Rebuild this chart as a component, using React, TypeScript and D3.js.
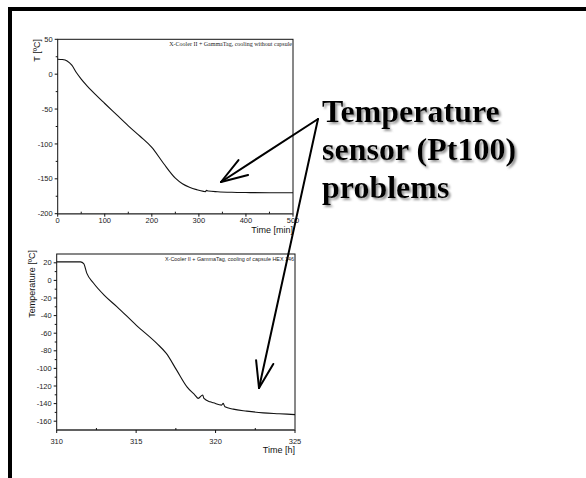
import React from "react";
import * as d3 from "d3";

// top panel: X-Cooler II + GammaTag, cooling without capsule
const topTime = [0, 10, 20, 30, 40, 50, 60, 80, 100, 125, 150, 175, 200, 225, 250, 265, 280, 295, 310, 314, 316, 320, 340, 370, 400, 450, 500];
const topTemp = [21.5, 21, 19, 13, 2, -7, -15, -29, -42, -58, -74, -89, -105, -128, -149, -157, -162, -165.5, -168, -168.3, -166.5, -167.5, -168.5, -169.3, -169.7, -170, -170];
const topXTicks = [0, 100, 200, 300, 400, 500];
const topYTicks = [50, 0, -50, -100, -150, -200];

// bottom panel: cooling of capsule HEX 146
const botTime = [310, 311.0, 311.5, 311.7, 311.9, 312.3, 313.0, 313.8, 315.0, 316.3, 316.9, 317.55, 318.2, 318.7, 318.91, 319.19, 319.27, 319.65, 319.86, 320.38, 320.48, 320.59, 321.11, 321.96, 323.0, 324.0, 325];
const botTemp = [21, 21, 21, 19, 8, -2.7, -17, -30, -50.8, -71.6, -83, -102, -121, -130.3, -134.1, -130.3, -134.1, -138, -139.1, -141.7, -139.8, -143.6, -146.3, -148.5, -150.5, -151.5, -152.5];
const botXTicks = [310, 315, 320, 325];
const botYTicks = [20, 0, -20, -40, -60, -80, -100, -120, -140, -160];

const noteLines = ["Temperature", "sensor (Pt100)", "problems"];

const sans = "Arial, 'Liberation Sans', sans-serif";
const serif = "'Times New Roman', 'Liberation Serif', serif";

type PanelProps = {
  xs: number[];
  ys: number[];
  xDomain: [number, number];
  yDomain: [number, number];
  xRange: [number, number];
  yRange: [number, number];
  xTicks: number[];
  yTicks: number[];
  xMinor: number[];
  yMinor: number[];
  title: string;
  titleFont: string;
  titleSize: number;
  titleY: number;
  xLabel: string;
  yLabel: string;
  yLabelX: number;
  yLabelEnd: number;
  xTickDy: number;
  xLabelY: number;
};

const Panel = (p: PanelProps) => {
  const x = d3.scaleLinear().domain(p.xDomain).range(p.xRange);
  const y = d3.scaleLinear().domain(p.yDomain).range(p.yRange);
  const [x0, x1] = p.xRange;
  const [y0, y1] = p.yRange; // y0 bottom, y1 top
  const pts = p.xs.map((v, i) => [v, p.ys[i]] as [number, number]);
  const path = d3
    .line<[number, number]>()
    .x((d) => x(d[0]))
    .y((d) => y(d[1]))
    .curve(d3.curveMonotoneX)(pts);

  return (
    <g>
      <path d={path || ""} fill="none" stroke="#111" strokeWidth={1.1} />
      <rect x={x0} y={y1} width={x1 - x0} height={y0 - y1} fill="none" stroke="#111" strokeWidth={1} />
      <line x1={x0} x2={x1} y1={y0} y2={y0} stroke="#555" strokeWidth={1.6} />
      {p.yTicks.map((t) => (
        <g key={"y" + t}>
          <line x1={x0 - 3} x2={x0} y1={y(t)} y2={y(t)} stroke="#111" />
          <text x={x0 - 5} y={y(t)} dy="0.35em" textAnchor="end" fontFamily={sans} fontSize={7.5} fill="#222">
            {t}
          </text>
        </g>
      ))}
      {p.yMinor.map((t) => (
        <line key={"ym" + t} x1={x0 - 2} x2={x0} y1={y(t)} y2={y(t)} stroke="#111" />
      ))}
      {p.xTicks.map((t) => (
        <g key={"x" + t}>
          <line x1={x(t)} x2={x(t)} y1={y0} y2={y0 + 3} stroke="#111" />
          <text x={x(t)} y={y0 + p.xTickDy} textAnchor="middle" fontFamily={sans} fontSize={7.5} fill="#222">
            {t}
          </text>
        </g>
      ))}
      {p.xMinor.map((t) => (
        <line key={"xm" + t} x1={x(t)} x2={x(t)} y1={y0 - 2} y2={y0} stroke="#111" />
      ))}
      <text x={x1 - 1} y={p.titleY} textAnchor="end" fontFamily={p.titleFont} fontSize={p.titleSize} fill="#222">
        {p.title}
      </text>
      <text x={x1} y={p.xLabelY} textAnchor="end" fontFamily={sans} fontSize={9} fill="#111">
        {p.xLabel}
      </text>
      <text
        transform={`translate(${p.yLabelX},${p.yLabelEnd}) rotate(-90)`}
        textAnchor="end"
        fontFamily={sans}
        fontSize={9}
        fill="#111"
      >
        {p.yLabel}
      </text>
    </g>
  );
};

const Arrow = ({ from, to }: { from: [number, number]; to: [number, number] }) => {
  const ang = Math.atan2(to[1] - from[1], to[0] - from[0]);
  const len = 28;
  const spread = 0.32;
  const a1: [number, number] = [to[0] - len * Math.cos(ang - spread), to[1] - len * Math.sin(ang - spread)];
  const a2: [number, number] = [to[0] - len * Math.cos(ang + spread), to[1] - len * Math.sin(ang + spread)];
  return (
    <g stroke="#000" strokeWidth={2} fill="none" strokeLinecap="round">
      <line x1={from[0]} y1={from[1]} x2={to[0]} y2={to[1]} />
      <line x1={to[0]} y1={to[1]} x2={a1[0]} y2={a1[1]} />
      <line x1={to[0]} y1={to[1]} x2={a2[0]} y2={a2[1]} />
    </g>
  );
};

export default function App() {
  const origin: [number, number] = [318, 119];
  return (
    <svg width={586} height={478} style={{ position: "absolute", left: 0, top: 0, background: "#fff" }}>
      <defs>
        <filter id="shadow" x="-5%" y="-20%" width="115%" height="150%">
          <feDropShadow dx={2} dy={2} stdDeviation={0.8} floodColor="#888" floodOpacity={0.9} />
        </filter>
      </defs>
      <rect x={8} y={7} width={578} height={4} fill="#000" />
      <rect x={8} y={7} width={4} height={471} fill="#000" />

      <Panel
        xs={topTime}
        ys={topTemp}
        xDomain={[0, 500]}
        yDomain={[-200, 50]}
        xRange={[57.7, 293]}
        yRange={[213.7, 39.3]}
        xTicks={topXTicks}
        yTicks={topYTicks}
        xMinor={[50, 150, 250, 350, 450]}
        yMinor={[25, -25, -75, -125, -175]}
        title="X-Cooler II + GammaTag, cooling without capsule"
        titleFont={serif}
        titleSize={6}
        titleY={46}
        xLabel="Time [min]"
        yLabel="T [ºC]"
        yLabelX={40}
        yLabelEnd={39}
        xTickDy={9.3}
        xLabelY={233}
      />

      <Panel
        xs={botTime}
        ys={botTemp}
        xDomain={[310, 325]}
        yDomain={[-170, 30]}
        xRange={[56.7, 295]}
        yRange={[430, 254]}
        xTicks={botXTicks}
        yTicks={botYTicks}
        xMinor={[312.5, 317.5, 322.5]}
        yMinor={[10, -10, -30, -50, -70, -90, -110, -130, -150]}
        title="X-Cooler II + GammaTag, cooling of capsule HEX 146"
        titleFont={sans}
        titleSize={5.4}
        titleY={261}
        xLabel="Time [h]"
        yLabel="Temperature [ºC]"
        yLabelX={35}
        yLabelEnd={250}
        xTickDy={14}
        xLabelY={453}
      />

      <Arrow from={origin} to={[221, 182]} />
      <Arrow from={origin} to={[259, 388]} />

      <g fontFamily={serif} fontWeight="bold" fontSize={32} fill="#000" filter="url(#shadow)">
        {noteLines.map((l, i) => (
          <text key={l} x={322} y={122 + i * 38}>
            {l}
          </text>
        ))}
      </g>
    </svg>
  );
}
